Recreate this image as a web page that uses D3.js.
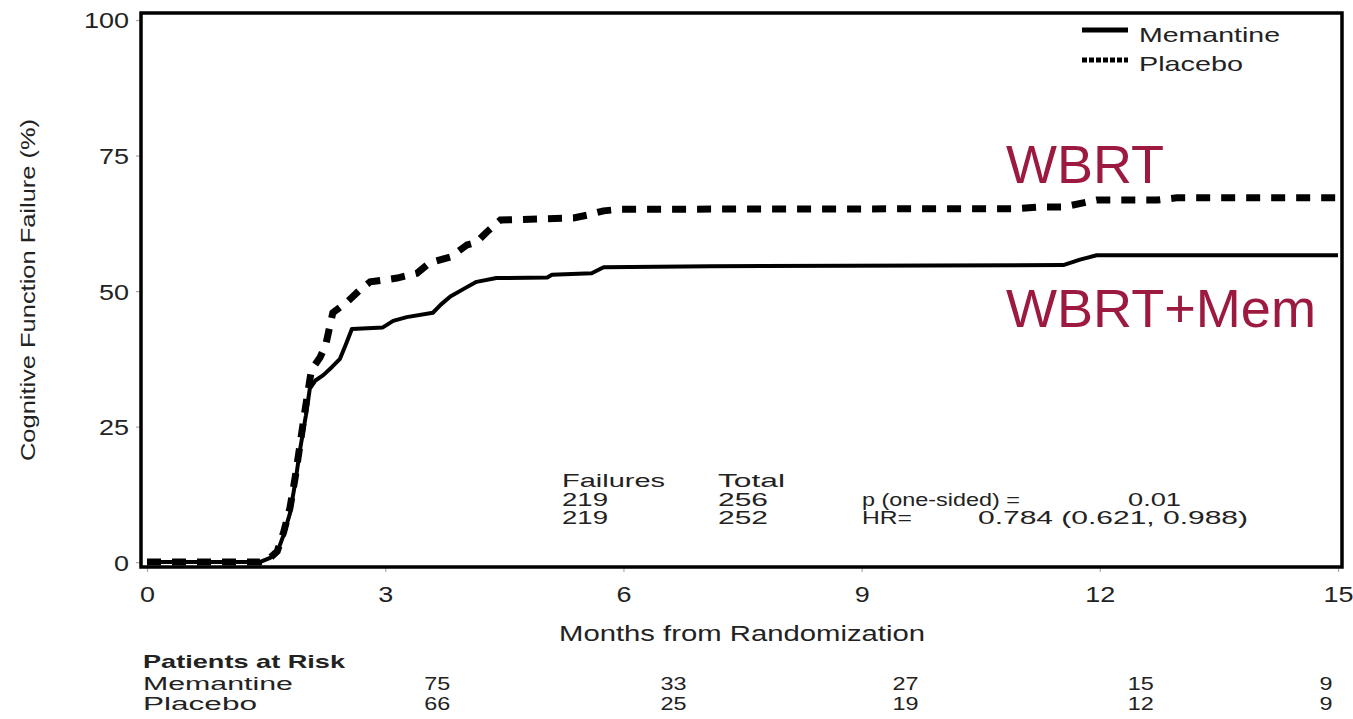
<!DOCTYPE html>
<html>
<head>
<meta charset="utf-8">
<script src="https://cdn.jsdelivr.net/npm/d3@7"></script>
<style>
  html, body { margin: 0; padding: 0; background: #fff; }
  svg { display: block; }
  text { font-family: "Liberation Sans", Arial, sans-serif; fill: #222; }
</style>
</head>
<body>
<svg id="chart" width="1353" height="719"></svg>
<script>
// ---------------- DATA ----------------
const xTicks = [0, 3, 6, 9, 12, 15];
const yTicks = [0, 25, 50, 75, 100];

// Memantine (solid) cumulative cognitive failure (%) by month
const memMonths = [0, 1.42, 1.55, 1.64, 1.72, 1.8, 1.87, 1.93, 2.0, 2.05, 2.12, 2.22, 2.33, 2.43, 2.5, 2.58, 2.97, 3.1, 3.27, 3.6, 3.7, 3.82, 4.0, 4.15, 4.4, 5.04, 5.1, 5.6, 5.75, 7.1, 11.54, 11.75, 11.96, 15];
const memValues = [0, 0, 0.8, 1.8, 5, 9, 15, 21, 27, 32, 33.5, 34.5, 36, 37.5, 40, 43, 43.3, 44.5, 45.2, 46, 47.5, 49, 50.5, 51.7, 52.4, 52.5, 53, 53.3, 54.4, 54.6, 54.8, 55.8, 56.6, 56.6];

// Placebo (dashed)
const plaMonths = [0, 1.42, 1.55, 1.64, 1.72, 1.8, 1.87, 1.93, 2.0, 2.07, 2.18, 2.25, 2.3, 2.34, 2.52, 2.68, 2.81, 3.15, 3.4, 3.56, 3.82, 4.03, 4.15, 4.28, 4.45, 5.37, 5.54, 5.75, 5.96, 10.96, 11.25, 11.54, 11.96, 12.72, 12.97, 15];
const plaValues = [0, 0, 0.8, 2, 5.5, 10, 16, 22, 29, 35.4, 37.8, 40, 43.4, 46, 48, 50.2, 51.7, 52.4, 53.3, 55.2, 56.3, 58.5, 59, 60.9, 63.1, 63.5, 64, 64.8, 65.1, 65.2, 65.5, 65.5, 66.8, 66.8, 67.2, 67.2];

const seriesNames = ["Memantine", "Placebo"];
const groupLabels = ["WBRT", "WBRT+Mem"];

const statHeader = ["Failures", "Total"];
const failures = [219, 219];
const totals = [256, 252];
const pText = "p (one-sided) =";
const pValue = "0.01";
const hrText = "HR=";
const hrValue = "0.784 (0.621, 0.988)";

const riskMonths = [3, 6, 9, 12, 15];
const riskMemantine = [75, 33, 27, 15, 9];
const riskPlacebo = [66, 25, 19, 12, 9];

// ---------------- LAYOUT ----------------
const svg = d3.select("#chart");
const frame = { left: 141, right: 1342, top: 13, bottom: 567 };
const FONT = "Liberation Sans, Arial, sans-serif";

const x = d3.scaleLinear().domain([-0.076, 15.05]).range([frame.left, frame.right]);
const y = d3.scaleLinear().domain([-0.9, 101.3]).range([frame.bottom, frame.top]);

// ticks (small, outward); labels slightly widened like the source
const xAxis = d3.axisBottom(x).tickValues(xTicks).tickSize(5).tickFormat(d3.format("d"));
const gx = svg.append("g").attr("transform", `translate(0,${frame.bottom})`).call(xAxis);
gx.select(".domain").remove();
gx.selectAll(".tick line").attr("stroke", "#aaa").attr("stroke-width", 1.2);
gx.selectAll(".tick text").attr("y", 19).attr("dy", "0.71em")
  .style("font-size", "22px").style("font-family", FONT).attr("fill", "#222")
  .attr("textLength", d => String(d).length * 15).attr("lengthAdjust", "spacingAndGlyphs");

const yAxis = d3.axisLeft(y).tickValues(yTicks).tickSize(5);
const gy = svg.append("g").attr("transform", `translate(${frame.left},0)`).call(yAxis);
gy.select(".domain").remove();
gy.selectAll(".tick line").attr("stroke", "#aaa").attr("stroke-width", 1.2);
gy.selectAll(".tick text").attr("x", -12).attr("dy", "0.36em")
  .style("font-size", "22px").style("font-family", FONT).attr("fill", "#222")
  .attr("textLength", d => String(d).length * 15).attr("lengthAdjust", "spacingAndGlyphs");

// frame
svg.append("rect")
  .attr("x", frame.left).attr("y", frame.top)
  .attr("width", frame.right - frame.left).attr("height", frame.bottom - frame.top)
  .attr("fill", "none").attr("stroke", "#000").attr("stroke-width", 3.5);

// curves
const line = d3.line().x(d => x(d[0])).y(d => y(d[1]));
const memData = memMonths.map((m, i) => [m, memValues[i]]);
const plaData = plaMonths.map((m, i) => [m, plaValues[i]]);

svg.append("path").datum(memData).attr("d", line)
  .attr("fill", "none").attr("stroke", "#000").attr("stroke-width", 4)
  .attr("stroke-linejoin", "round");
svg.append("path").datum(plaData).attr("d", line)
  .attr("fill", "none").attr("stroke", "#000").attr("stroke-width", 7)
  .attr("stroke-dasharray", "14,11");

// legend
const lg = svg.append("g");
lg.append("line").attr("x1", 1082).attr("x2", 1128).attr("y1", 30).attr("y2", 30)
  .attr("stroke", "#000").attr("stroke-width", 5);
lg.append("line").attr("x1", 1082).attr("x2", 1128).attr("y1", 60).attr("y2", 60)
  .attr("stroke", "#000").attr("stroke-width", 5).attr("stroke-dasharray", "5,2");
lg.append("text").attr("x", 1139).attr("y", 42).text(seriesNames[0])
  .style("font-size", "21px").attr("textLength", 141).attr("lengthAdjust", "spacingAndGlyphs");
lg.append("text").attr("x", 1139).attr("y", 71).text(seriesNames[1])
  .style("font-size", "21px").attr("textLength", 104).attr("lengthAdjust", "spacingAndGlyphs");

// group labels
const red = "#9c1a40";
svg.append("text").attr("x", 1006).attr("y", 183).text(groupLabels[0])
  .style("font-size", "54px").style("fill", red)
  .attr("textLength", 158).attr("lengthAdjust", "spacingAndGlyphs");
svg.append("text").attr("x", 1006).attr("y", 327).text(groupLabels[1])
  .style("font-size", "54px").style("fill", red)
  .attr("textLength", 310).attr("lengthAdjust", "spacingAndGlyphs");

// stats block
const sb = svg.append("g").style("font-size", "19px");
function t(xp, yp, s, len) {
  const el = sb.append("text").attr("x", xp).attr("y", yp).text(s);
  if (len) el.attr("textLength", len).attr("lengthAdjust", "spacingAndGlyphs");
  return el;
}
t(562, 487, statHeader[0], 103);
t(718, 487, statHeader[1], 67);
t(562, 505.5, failures[0], 46);
t(718, 505.5, totals[0], 50);
t(562, 524, failures[1], 46);
t(718, 524, totals[1], 50);
t(862, 505.5, pText, 158);
t(1128, 505.5, pValue, 53);
t(862, 524, hrText, 50);
t(978, 524, hrValue, 270);

// axis titles
svg.append("text").attr("x", 742).attr("y", 641).attr("text-anchor", "middle")
  .text("Months from Randomization").style("font-size", "22px")
  .attr("textLength", 366).attr("lengthAdjust", "spacingAndGlyphs");
svg.append("text").attr("transform", "translate(35,290) rotate(-90)").attr("text-anchor", "middle")
  .text("Cognitive Function Failure (%)").style("font-size", "21px")
  .attr("textLength", 342).attr("lengthAdjust", "spacingAndGlyphs");

// patients at risk
const rk = svg.append("g").style("font-size", "17.5px");
rk.append("text").attr("x", 143).attr("y", 668).text("Patients at Risk")
  .style("font-weight", "bold").style("font-size", "19px")
  .attr("textLength", 202).attr("lengthAdjust", "spacingAndGlyphs");
rk.append("text").attr("x", 143).attr("y", 690).text(seriesNames[0])
  .attr("textLength", 150).attr("lengthAdjust", "spacingAndGlyphs");
rk.append("text").attr("x", 143).attr("y", 710).text(seriesNames[1])
  .attr("textLength", 114).attr("lengthAdjust", "spacingAndGlyphs");
const riskShift = [52, 50, 44, 41, -12];
rk.selectAll(".rm").data(riskMonths).enter().append("text")
  .attr("x", (d, i) => x(d) + riskShift[i]).attr("y", 690).attr("text-anchor", "middle")
  .attr("textLength", (d, i) => String(riskMemantine[i]).length * 13).attr("lengthAdjust", "spacingAndGlyphs")
  .text((d, i) => riskMemantine[i]);
rk.selectAll(".rp").data(riskMonths).enter().append("text")
  .attr("x", (d, i) => x(d) + riskShift[i]).attr("y", 710).attr("text-anchor", "middle")
  .attr("textLength", (d, i) => String(riskPlacebo[i]).length * 13).attr("lengthAdjust", "spacingAndGlyphs")
  .text((d, i) => riskPlacebo[i]);
</script>
</body>
</html>
